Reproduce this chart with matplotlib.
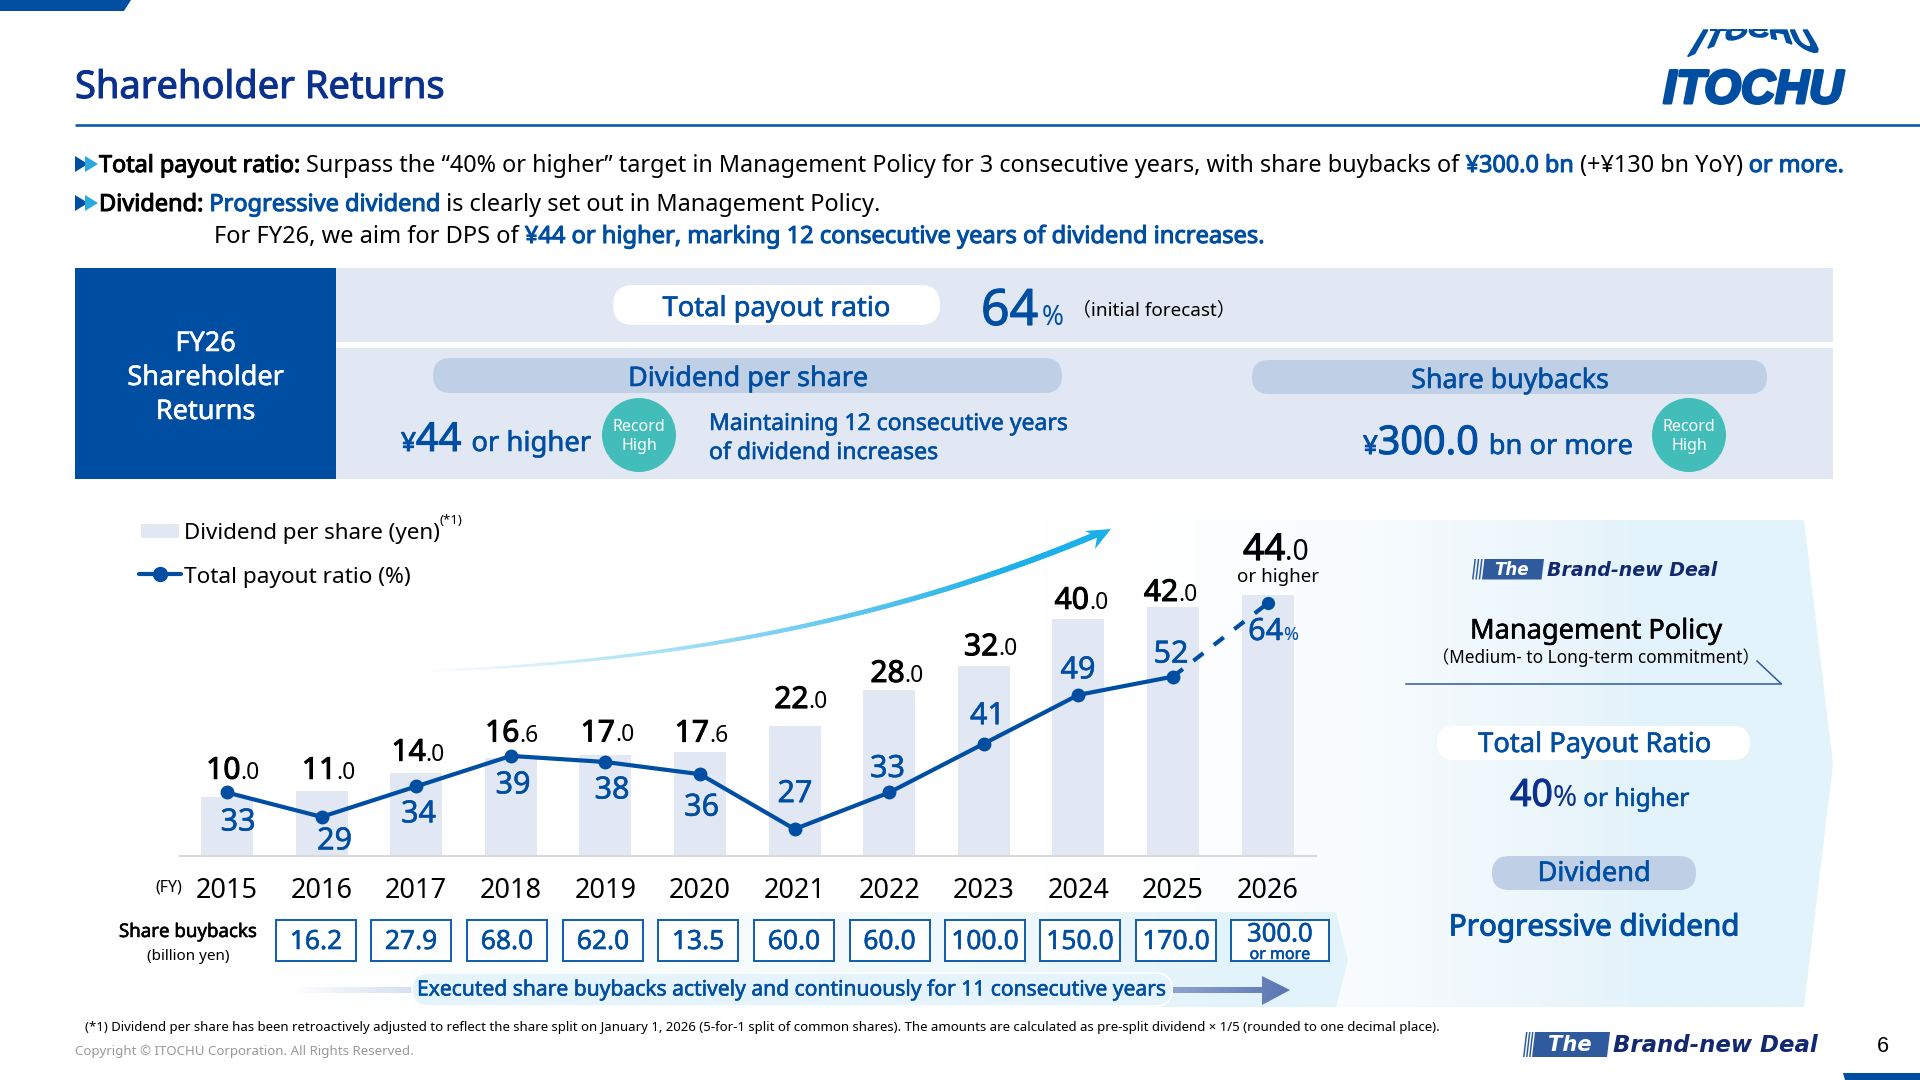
import numpy as np
import matplotlib
matplotlib.use("Agg")
import matplotlib.pyplot as plt
from matplotlib.patches import Polygon, FancyBboxPatch, Circle, Rectangle, PathPatch
from matplotlib.collections import LineCollection
from matplotlib.font_manager import FontProperties
from matplotlib.textpath import TextPath
from matplotlib.path import Path
from matplotlib.colors import to_rgb
import matplotlib.patheffects as pe

# ---------- data ----------
years = [2015, 2016, 2017, 2018, 2019, 2020, 2021, 2022, 2023, 2024, 2025, 2026]
dividend = [10.0, 11.0, 14.0, 16.6, 17.0, 17.6, 22.0, 28.0, 32.0, 40.0, 42.0, 44.0]
payout = [33, 29, 34, 39, 38, 36, 27, 33, 41, 49, 52, 64]
buybacks = ["16.2", "27.9", "68.0", "62.0", "13.5", "60.0", "60.0", "100.0", "150.0", "170.0", "300.0"]

# label placement (pixels relative to the mark)
div_dx = [6, 7, 2, 1, 2, 1.5, 6.4, 8, 7, 3, -2.4, 8.4]
div_dy = [-18, -12, -12.3, -16, -13.7, -10, -17.5, -8, -11, -10, -6, -35]
pay_dx = [11, 13, 2.3, 2.2, 6.6, 1.5, 0.4, -1.8, 3.7, -0.4, -2, 0]
pay_dy = [27, 21.5, 25, 26.5, 25.5, 30.5, -38, -26.5, -30.5, -27.5, -25, 28.6]

# ---------- style ----------
W, H = 1920, 1080
BLUE = "#004ea2"
NAVY = "#0b318f"
PALE = "#e1e8f3"
PILL = "#bfd0e6"
TEAL = "#43bdb9"
SKY = "#e3f3fb"
FONT = ["Noto Sans", "Noto Sans CJK JP", "DejaVu Sans"]
plt.rcParams["font.family"] = FONT
STROKE = {"semibold": 0.75, "medium": 0.4}
CENTER_SHIFT = 3

fig = plt.figure(figsize=(W / 100, H / 100), dpi=100, facecolor="white")
bg = fig.add_axes([0, 0, 1, 1], zorder=0)
top = fig.add_axes([0, 0, 1, 1], zorder=5)
for a in (bg, top):
    a.set_xlim(0, W)
    a.set_ylim(H, 0)
    a.axis("off")
    a.set_autoscale_on(False)
    a.patch.set_alpha(0)
rend = fig.canvas.get_renderer()


def real_weight(w):
    return "normal" if w in STROKE else w


def effects(w, color):
    if w in STROKE:
        return [pe.withStroke(linewidth=STROKE[w], foreground=color)]
    return None


def fp(size, weight="normal", family=None, style="normal"):
    return FontProperties(family=family or FONT, size=size, weight=real_weight(weight), style=style)


def tw(s, size, weight="normal", family=None, style="normal"):
    p = fp(size, weight, family, style)
    a = rend.get_text_width_height_descent("|" + s + "|", p, False)[0]
    b = rend.get_text_width_height_descent("||", p, False)[0]
    return a - b


def T(x, y, s, size=18, color="black", weight="normal", ha="center", va="center",
      width=None, family=None, style="normal", ax=None, stroke=None, **kw):
    if width is not None:
        size = size * width / tw(s, size, weight, family, style)
    if va == "center":
        y += CENTER_SHIFT
    fx = [pe.withStroke(linewidth=stroke, foreground=color)] if stroke else effects(weight, color)
    return (ax or top).text(x, y, s, fontsize=size, color=color, fontweight=real_weight(weight), ha=ha, va=va,
                            family=family or FONT, style=style, path_effects=fx, **kw)


def runs(x, y, items, ha="left", width=None):
    """items: (text, size, color, weight) on a common baseline."""
    scale = 1.0
    total = sum(tw(t, s, w) for t, s, c, w in items)
    if width is not None:
        scale = width / total
        total = width
    if ha == "center":
        x -= total / 2
    for t, s, c, w in items:
        top.text(x, y, t, fontsize=s * scale, color=c, fontweight=real_weight(w), ha="left", va="baseline",
                 family=FONT, path_effects=effects(w, c))
        x += tw(t, s * scale, w)


def pill(x0, y0, x1, y1, color, ec="none", lw=0, ax=None, z=2):
    h = y1 - y0
    (ax or bg).add_patch(FancyBboxPatch((x0, y0), x1 - x0, h, boxstyle=f"round,pad=0,rounding_size={h/2}",
                                        fc=color, ec=ec, lw=lw, zorder=z, mutation_aspect=1))


def grad(pts, x0, x1, c0, c1, a0=0.0, a1=1.0, z=1):
    xs = [p[0] for p in pts]
    ys = [p[1] for p in pts]
    n = 512
    X = np.linspace(min(xs), max(xs), n)
    t = np.clip((X - x0) / (x1 - x0), 0, 1)
    img = np.zeros((1, n, 4))
    for k in range(3):
        img[0, :, k] = to_rgb(c0)[k] * (1 - t) + to_rgb(c1)[k] * t
    img[0, :, 3] = a0 * (1 - t) + a1 * t
    im = bg.imshow(img, extent=[min(xs), max(xs), max(ys), min(ys)], aspect="auto", zorder=z, interpolation="bilinear")
    poly = Polygon(pts, closed=True, transform=bg.transData, fc="none", ec="none")
    bg.add_patch(poly)
    im.set_clip_path(poly)


def brand(xs, xb0, xb1, xt0, xt1, y0, y1):
    h = y1 - y0
    sl = h * 0.12
    for k in range(3):
        x = xs + k * (xb0 - xs) / 3
        bg.add_patch(Polygon([(x + sl, y0), (x + sl + 1.5, y0), (x + 1.5, y1), (x, y1)], fc="#2f5a9e", ec="none", zorder=3))
    bg.add_patch(Polygon([(xb0 + sl, y0), (xb1, y0), (xb1 - sl, y1), (xb0, y1)], fc="#2f5a9e", ec="none", zorder=3))
    w = (xb1 - xb0) * 0.56
    T((xb0 + xb1) / 2 - 1, (y0 + y1) / 2 - 2.5, "The", size=15, color="white", weight="bold", style="oblique",
      family=["DejaVu Sans"], width=w)
    T(xt0, (y0 + y1) / 2 - 2, "Brand-new Deal", size=15, color="#12286f", weight="bold", style="oblique",
      family=["DejaVu Sans"], ha="left", width=xt1 - xt0)


# ---------- header ----------
bg.add_patch(Polygon([(0, 0), (131, 0), (124, 11), (0, 11)], fc=BLUE, ec="none"))
bg.add_patch(Polygon([(1845, 1080), (1920, 1080), (1920, 1073), (1843, 1073)], fc=BLUE, ec="none"))
T(75, 98, "Shareholder Returns", color=NAVY, weight="semibold", ha="left", va="baseline", width=369, size=27)
bg.plot([75, W], [124.5, 124.5], color="#0f5cad", lw=1.9, solid_capstyle="butt")

# logo
T(1753, 103, "ITOCHU", size=34, color=BLUE, weight="bold", style="italic", va="baseline", width=180,
  family=["Liberation Sans"], stroke=2.2)
tp = TextPath((0, 0), "ITOCHU", size=10, prop=FontProperties(family="Liberation Sans", weight="bold"))
ext = tp.get_extents()
verts, codes = [], []
for poly in tp.to_polygons():
    dense = [poly[0]]
    for p, q in zip(poly[:-1], poly[1:]):
        dense.extend(p + (q - p) * f for f in np.linspace(0.1, 1, 10))
    dense = np.array(dense)
    u = (dense[:, 0] - ext.x0) / ext.width
    v = (dense[:, 1] - ext.y0) / ext.height
    arc = 37 + 20 * (2 * u - 1) ** 2
    yy = arc - (arc - 22) * v
    yy = np.maximum(yy, 30)
    ww = 136 - (57 - yy) * 1.2
    xx = 1755.5 + (u - 0.5) * ww
    verts.extend(zip(xx, yy))
    codes.extend([Path.MOVETO] + [Path.LINETO] * (len(xx) - 2) + [Path.CLOSEPOLY])
bg.add_patch(PathPatch(Path(verts, codes), fc=BLUE, ec=BLUE, lw=1.0, zorder=3))


def bullets(y):
    for x0, c in ((75, BLUE), (85, "#2aa9e0")):
        bg.add_patch(Polygon([(x0, y - 8), (x0 + 13, y), (x0, y + 8)], fc=c, ec="none", zorder=3))


bullets(164)
bullets(203)
S = 18
runs(99, 172, [("Total payout ratio: ", S, "black", "semibold"),
               ("Surpass the “40% or higher” target in Management Policy for 3 consecutive years, with share buybacks of ", S, "black", "normal"),
               ("¥300.0 bn", S, BLUE, "semibold"), (" (+¥130 bn YoY) ", S, "black", "normal"),
               ("or more.", S, BLUE, "semibold")], width=1744)
runs(99, 211, [("Dividend: ", S, "black", "semibold"), ("Progressive dividend", S, BLUE, "semibold"),
               (" is clearly set out in Management Policy.", S, "black", "normal")], width=782)
runs(214, 243, [("For FY26, we aim for DPS of ", S, "black", "normal"),
                ("¥44 or higher, marking 12 consecutive years of dividend increases.", S, BLUE, "semibold")], width=1050)

# ---------- forecast panel ----------
bg.add_patch(Rectangle((75, 268), 261, 211, fc=BLUE, ec="none", zorder=2))
bg.add_patch(Rectangle((336, 268), 1497, 73.5, fc=PALE, ec="none", zorder=2))
bg.add_patch(Rectangle((336, 348), 1497, 131, fc=PALE, ec="none", zorder=2))
for yy, s in ((341, "FY26"), (375, "Shareholder"), (409, "Returns")):
    T(205.5, yy, s, size=19.5, color="white", weight="medium")
pill(613, 285, 940, 325, "white", z=3)
T(776.5, 306, "Total payout ratio", color=BLUE, weight="medium", width=228, size=19)
runs(981, 325, [("64", 36, BLUE, "semibold")])
T(1042, 325, "%", size=19, color=BLUE, ha="left", va="baseline")
T(1072, 307.5, "（initial forecast）", ha="left", size=13.6)
pill(433, 358, 1062, 393, PILL, z=3)
T(748, 376, "Dividend per share", color=BLUE, weight="medium", width=240, size=19)
pill(1252, 360, 1767, 394, PILL, z=3)
T(1510, 378, "Share buybacks", color=BLUE, weight="medium", width=198, size=19)
runs(401, 451, [("¥", 19, BLUE, "semibold"), ("44", 29, BLUE, "semibold"), ("  ", 14, BLUE, "normal"),
                ("or higher", 20, BLUE, "medium")], width=190)
for cx in (639, 1689):
    bg.add_patch(Circle((cx, 435), 37, fc=TEAL, ec="none", zorder=3))
    T(cx, 424, "Record", size=11.5, color="white")
    T(cx, 443.5, "High", size=11.5, color="white")
T(709, 421, "Maintaining 12 consecutive years", color=BLUE, weight="medium", ha="left", width=358, size=16)
T(709, 450, "of dividend increases", color=BLUE, weight="medium", ha="left", width=229, size=16)
runs(1363, 454, [("¥", 19, BLUE, "semibold"), ("300.0", 29, BLUE, "semibold"), ("  ", 14, BLUE, "normal"),
                 ("bn or more", 20, BLUE, "medium")], width=270)

# ---------- backdrops ----------
grad([(1040, 520), (1804, 520), (1833, 764), (1804, 1007), (1040, 1007)], 1040, 1650, "white", SKY, 0.0, 1.0, z=1)
grad([(130, 912), (1336, 912), (1348, 960), (1336, 1007), (130, 1007)], 130, 1250, "white", SKY, 0.0, 1.0, z=1.5)

# curved arrow
t = np.linspace(0, 1, 200)
bx = (1 - t) ** 2 * 420 + 2 * t * (1 - t) * 800 + t ** 2 * 1100
by = (1 - t) ** 2 * 671 + 2 * t * (1 - t) * 660 + t ** 2 * 533
seg = np.stack([np.column_stack([bx[:-1], by[:-1]]), np.column_stack([bx[1:], by[1:]])], axis=1)
c0, c1 = np.array(to_rgb("white")), np.array(to_rgb("#1cb0e8"))
frac = np.minimum(t[:-1] / 0.85, 1)
bg.add_collection(LineCollection(seg, colors=[c0 * (1 - f) + c1 * f for f in frac],
                                 linewidths=1.5 + 3 * t[:-1], zorder=2, capstyle="round"))
bg.add_patch(Polygon([(1111, 529), (1085, 531), (1097, 537), (1095, 549)], fc="#1cb0e8", ec="none", zorder=3))

# ---------- chart ----------
AX0, AX1, AY0, AY1 = 180, 1316, 520, 856
PX_YEAR = 94.6
PX_YEN = 5.93
PX_PCT = 6.1
rect = [AX0 / W, 1 - AY1 / H, (AX1 - AX0) / W, (AY1 - AY0) / H]
ax = fig.add_axes(rect, zorder=2)
ax.patch.set_alpha(0)
ax.set_xlim(2015 - (227 - AX0) / PX_YEAR, 2015 + (AX1 - 227) / PX_YEAR)
ax.set_ylim(0, (AY1 - AY0) / PX_YEN)
ax.bar(years, dividend, width=0.55, color=PALE, zorder=1)
for s in ("top", "left", "right"):
    ax.spines[s].set_visible(False)
ax.spines["bottom"].set_color("#d9d9d9")
ax.spines["bottom"].set_linewidth(1.5)
ax.set_yticks([])
ax.set_xticks(years)
ax.set_xticklabels([str(y) for y in years], fontsize=19.5, color="black")
ax.tick_params(axis="x", length=0, pad=15)

ax2 = ax.twinx()
ax2.patch.set_alpha(0)
ax2.set_ylim(33 - (AY1 - 792.5) / PX_PCT, 33 + (792.5 - AY0) / PX_PCT)
ax2.set_yticks([])
for s in ax2.spines.values():
    s.set_visible(False)
ax2.plot(years[:-1], payout[:-1], color=BLUE, lw=3, marker="o", ms=9, solid_joinstyle="round", zorder=3)
ax2.plot(years[-2:], payout[-2:], color=BLUE, lw=3, ls=(0, (3, 3.2)), zorder=3)
ax2.plot(years[-1:], payout[-1:], color=BLUE, marker="o", ms=8.5, ls="none", zorder=3)
fig.canvas.draw()


def to_px(a, x, y):
    dx, dy = a.transData.transform((x, y))
    return dx, H - dy


for i, (yr, v) in enumerate(zip(years, dividend)):
    px, py = to_px(ax, yr, v)
    whole, dec = f"{v:.1f}".split(".")
    big = 30 if i < 11 else 37
    runs(px + div_dx[i], py + div_dy[i], [(whole, big * 0.72, "black", "semibold"), ("." + dec, big * 0.55, "black", "normal")], ha="center")
T(1278, 574, "or higher", size=13.5, color="black")

for i, (yr, v) in enumerate(zip(years, payout)):
    px, py = to_px(ax2, yr, v)
    if i < 11:
        T(px + pay_dx[i], py + pay_dy[i], str(v), size=22, color=BLUE, weight="medium")
    else:
        runs(px + 5.5, py + pay_dy[i] + 8, [(str(v), 22, BLUE, "medium"), ("%", 13, BLUE, "normal")], ha="center")

T(155, 884, "(FY)", size=11.5, ha="left")

# legend
bg.add_patch(Rectangle((141, 524), 38, 14, fc=PALE, ec="none", zorder=3))
T(184, 531, "Dividend per share (yen)", size=16.5, ha="left", width=257)
T(440, 518, "(*1)", size=9.5, ha="left")
bg.plot([139, 181], [574, 574], color=BLUE, lw=3, zorder=3, solid_capstyle="round")
bg.plot([160], [574], color=BLUE, marker="o", ms=10, zorder=4)
T(184, 574.5, "Total payout ratio (%)", size=16.5, ha="left", width=227)

# share buyback row
T(188, 929, "Share buybacks", weight="medium", width=138, size=14)
T(188, 953, "(billion yen)", width=82, size=12)
box_c = [316, 411, 507, 603, 698, 794, 889.5, 985, 1080, 1176]
for cx, s in zip(box_c, buybacks[:-1]):
    bg.add_patch(Rectangle((cx - 40, 920), 80, 40.5, fc="white", ec="#0f5cad", lw=1.4, zorder=4))
    T(cx, 939, s, size=19, color=BLUE, weight="medium")
bg.add_patch(Rectangle((1231, 920), 98, 40.5, fc="white", ec="#0f5cad", lw=1.4, zorder=4))
T(1280, 932, buybacks[-1], size=18.5, color=BLUE, weight="medium")
T(1280, 952, "or more", size=11.5, color=BLUE, weight="medium")

# continuing arrow
grad([(294, 987), (414, 987), (414, 993), (294, 993)], 294, 414, "#d5dff0", "#d5dff0", 0.0, 1.0, z=2)
pill(412, 973, 1172, 1006, "#e5f4fc", ec="white", lw=1.2, z=3)
T(792, 987, "Executed share buybacks actively and continuously for 11 consecutive years",
  color=BLUE, weight="medium", width=748, size=16)
grad([(1173, 987), (1262, 987), (1262, 976), (1290, 990), (1262, 1005), (1262, 993), (1173, 993)],
     1173, 1290, "#8ea3d0", "#5a75b2", 1.0, 1.0, z=3)

# ---------- management policy panel ----------
brand(1472, 1482, 1544, 1547, 1718, 559, 579.5)
T(1596, 628.5, "Management Policy", weight="medium", width=252, size=20)
T(1596, 655, "（Medium- to Long-term commitment）", size=12.4)
bg.plot([1406, 1781.5, 1757], [684, 684, 661], color="#2f5a9e", lw=1.1, zorder=3)
pill(1437, 726, 1750, 760, "white", z=3)
T(1594.5, 742, "Total Payout Ratio", color=BLUE, weight="medium", width=233, size=19)
runs(1510, 806, [("40", 27, NAVY, "semibold"), ("%", 21, NAVY, "normal"), (" or higher", 17.5, BLUE, "medium")], width=180)
pill(1492, 856, 1696, 890, PILL, z=3)
T(1594, 871, "Dividend", color=BLUE, weight="medium", width=113, size=19)
T(1594, 925, "Progressive dividend", color=BLUE, weight="semibold", width=291, size=24)

# ---------- footer ----------
T(85, 1024, "(*1) Dividend per share has been retroactively adjusted to reflect the share split on January 1, 2026 "
  "(5-for-1 split of common shares). The amounts are calculated as pre-split dividend × 1/5 (rounded to one decimal place).",
  ha="left", width=1351, size=10)
T(75, 1048, "Copyright © ITOCHU Corporation. All Rights Reserved.", color="#999999", ha="left", width=338, size=10)
brand(1523, 1532, 1610, 1613, 1818, 1032, 1057)
T(1883, 1044, "6", size=15.5, family=["Liberation Sans"])

fig.savefig("out.png", dpi=100, facecolor="white")
